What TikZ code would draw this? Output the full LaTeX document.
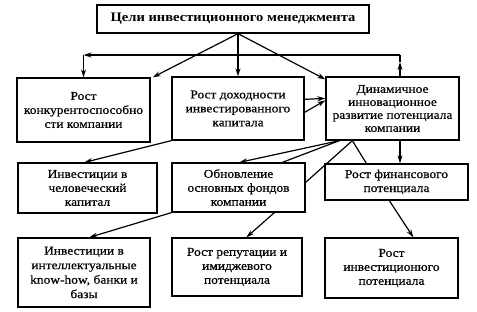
\documentclass[tikz,border=0pt]{standalone}
\usepackage{fontspec}
\setmainfont{Liberation Serif}[FakeStretch=1.12]
\newfontfamily\boxfont{Liberation Serif}[FakeStretch=1.12,FakeBold=0.6]
\usetikzlibrary{arrows.meta,calc}
\tikzset{
  box/.style={draw, line width=1.3pt, align=center, inner sep=0pt,
    font=\boxfont\fontsize{12}{14}\selectfont},
  conn/.style={line width=1.2pt},
  arr/.style={conn, -{Stealth[length=8pt,width=5pt]}},
}
\begin{document}
\begin{tikzpicture}[x=1pt,y=-1pt]
\useasboundingbox (0,0) rectangle (477,311);
\node[box, minimum width=272pt, minimum height=28pt, font=\fontsize{13}{15}\selectfont\bfseries] (top) at (233,19) {Цели инвестиционного менеджмента};
\node[box, minimum width=133pt, minimum height=64pt] (b1) at (83.5,110) {Рост\\конкурентоспособно\\сти компании};
\node[box, minimum width=132pt, minimum height=63pt] (b2) at (238,108.5) {Рост доходности\\инвестированного\\капитала};
\node[box, minimum width=133pt, minimum height=63pt, font=\boxfont\fontsize{12}{13}\selectfont] (b3) at (392.5,108.5) {Динамичное\\инновационное\\развитие потенциала\\компании};
\node[box, minimum width=139pt, minimum height=50pt] (b4) at (87.5,188) {Инвестиции в\\человеческий\\капитал};
\node[box, minimum width=133pt, minimum height=49pt] (b5) at (238.5,187.5) {Обновление\\основных фондов\\компании};
\node[box, minimum width=143pt, minimum height=36pt] (b6) at (396.5,182) {Рост финансового\\потенциала};
\node[box, minimum width=132pt, minimum height=69pt, font=\boxfont\fontsize{12}{14.5}\selectfont] (b7) at (84,272.5) {Инвестиции в\\интеллектуальные\\know-how, банки и\\базы};
\node[box, minimum width=130pt, minimum height=58pt] (b8) at (237,267) {Рост репутации и\\имиджевого\\потенциала};
\node[box, minimum width=133pt, minimum height=60pt] (b9) at (391.5,268) {Рост\\инвестиционюго\\потенциала};

% from top box
\coordinate (t0) at ($(top.south)+(5,0)$);
\draw[arr] (t0) -- ($(b1.north east)+(2,0)$);
\draw[arr] (t0) -- (t0 |- b2.north);
\draw[arr] (t0) -- ($(b3.north west)+(0,3)$);

% feedback loop
\coordinate (fr) at (400,55);
\coordinate (fl) at (b1.north |- fr);
\draw[arr] (b3.north -| fr) -- ($(fr)+(0,7)$);
\draw[conn] ($(fr)+(0,7)$) -- (fr);
\draw[arr] (fr) -- (fl);
\draw[arr] (fl) -- (b1.north);

% b2 -> b3
\draw[arr] ($(b2.north east)+(0,23)$) -- ($(b3.north west)+(0,22)$);
\draw[arr] ($(b2.north east)+(0,36)$) -- ($(b3.north west)+(0,24)$);

% b2 -> b4
\draw[arr] (b2.south west) -- ($(b4.north west)+(67,0)$);

% b3 fan
\coordinate (s1) at ($(b3.south west)+(14,0)$);
\coordinate (s2) at ($(b3.south west)+(27,0)$);
\draw[arr] (s1) -- ($(b5.north west)+(68,0)$);
\draw[conn] (s1) -- ($(b5.north west)+(111,0)$);
\draw[conn] (s2) -- ($(b5.north east)+(0,20)$);
\draw[conn] (s2) -- ($(b6.north west)+(42,0)$);
\draw[arr] (b3.south -| 400,0) -- (b6.north -| 400,0);

% row 2 -> row 3
\draw[arr] (b5.south west) -- ($(b7.north west)+(72,0)$);
\draw[arr] ($(b5.south west)+(103,0)$) -- ($(b8.north west)+(75,0)$);
\draw[arr] ($(b6.south west)+(65,0)$) -- ($(b9.north west)+(89,0)$);
\end{tikzpicture}
\end{document}
